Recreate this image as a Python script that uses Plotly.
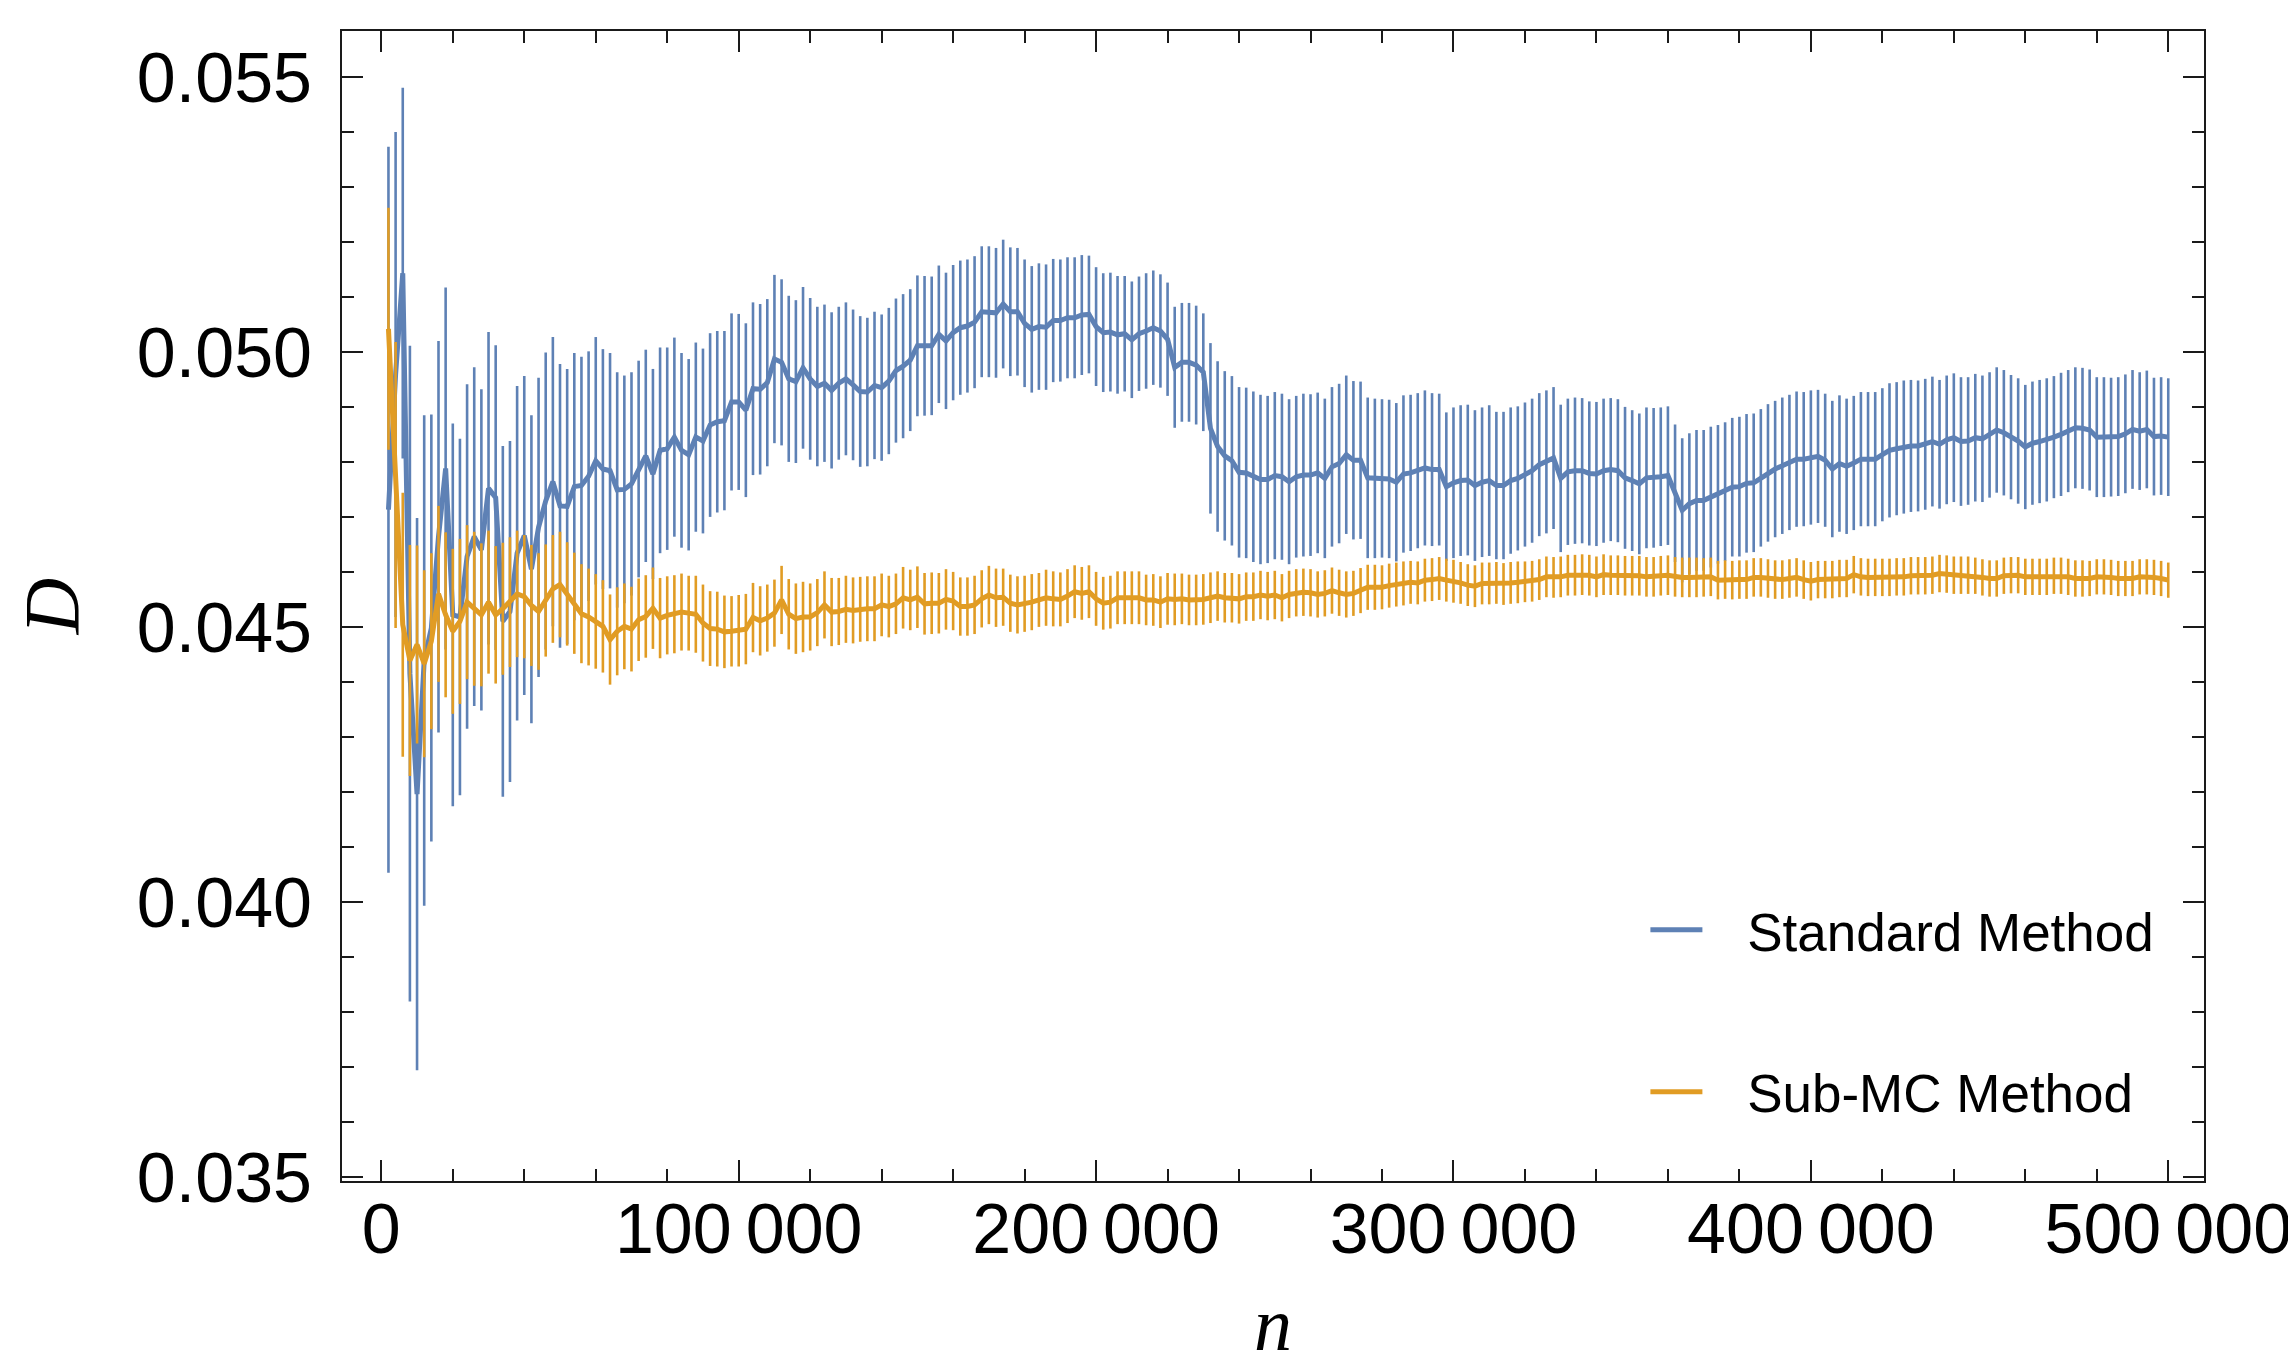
import plotly.graph_objects as go

# ---------------- data ----------------
n_values = list(range(2000, 500001, 2000))

standard_mean = [
    0.04714, 0.04960, 0.05144, 0.04416, 0.04197, 0.04440, 0.04499, 0.04665, 0.04789, 0.04523,
    0.04519, 0.04629, 0.04665, 0.04641, 0.04753, 0.04736, 0.04511, 0.04529, 0.04635, 0.04667,
    0.04606, 0.04682, 0.04730, 0.04765, 0.04721, 0.04720, 0.04756, 0.04758, 0.04775, 0.04803,
    0.04788, 0.04785, 0.04750, 0.04751, 0.04761, 0.04788, 0.04812, 0.04779, 0.04822, 0.04825,
    0.04846, 0.04822, 0.04814, 0.04846, 0.04839, 0.04868, 0.04874, 0.04876, 0.04910, 0.04910,
    0.04895, 0.04934, 0.04933, 0.04945, 0.04988, 0.04982, 0.04952, 0.04947, 0.04972, 0.04952,
    0.04938, 0.04944, 0.04931, 0.04944, 0.04952, 0.04941, 0.04929, 0.04928, 0.04940, 0.04936,
    0.04948, 0.04967, 0.04975, 0.04986, 0.05012, 0.05012, 0.05012, 0.05033, 0.05021, 0.05036,
    0.05045, 0.05048, 0.05055, 0.05074, 0.05074, 0.05072, 0.05088, 0.05074, 0.05074, 0.05053,
    0.05042, 0.05047, 0.05046, 0.05058, 0.05058, 0.05063, 0.05063, 0.05068, 0.05069, 0.05047,
    0.05036, 0.05037, 0.05032, 0.05034, 0.05023, 0.05034, 0.05039, 0.05045, 0.05039, 0.05024,
    0.04973, 0.04982, 0.04982, 0.04977, 0.04964, 0.04862, 0.04829, 0.04812, 0.04803, 0.04782,
    0.04781, 0.04774, 0.04769, 0.04769, 0.04776, 0.04774, 0.04765, 0.04774, 0.04777, 0.04777,
    0.04781, 0.04771, 0.04792, 0.04798, 0.04814, 0.04804, 0.04804, 0.04772, 0.04771, 0.04771,
    0.04770, 0.04764, 0.04779, 0.04781, 0.04785, 0.04790, 0.04787, 0.04787, 0.04756, 0.04763,
    0.04767, 0.04768, 0.04758, 0.04764, 0.04767, 0.04758, 0.04758, 0.04767, 0.04771, 0.04778,
    0.04785, 0.04796, 0.04801, 0.04808, 0.04771, 0.04783, 0.04785, 0.04785, 0.04780, 0.04779,
    0.04785, 0.04787, 0.04785, 0.04772, 0.04767, 0.04761, 0.04772, 0.04772, 0.04774, 0.04776,
    0.04744, 0.04713, 0.04725, 0.04731, 0.04731, 0.04737, 0.04742, 0.04747, 0.04755, 0.04756,
    0.04762, 0.04763, 0.04772, 0.04781, 0.04788, 0.04794, 0.04800, 0.04806, 0.04806, 0.04809,
    0.04811, 0.04804, 0.04788, 0.04798, 0.04793, 0.04799, 0.04806, 0.04806, 0.04806, 0.04814,
    0.04822, 0.04825, 0.04828, 0.04830, 0.04830, 0.04833, 0.04838, 0.04833, 0.04841, 0.04845,
    0.04838, 0.04839, 0.04845, 0.04843, 0.04850, 0.04859, 0.04854, 0.04846, 0.04839, 0.04828,
    0.04835, 0.04838, 0.04841, 0.04846, 0.04851, 0.04857, 0.04863, 0.04862, 0.04859, 0.04846,
    0.04846, 0.04846, 0.04847, 0.04852, 0.04860, 0.04857, 0.04860, 0.04847, 0.04848, 0.04846,
]

standard_err = [
    0.0066, 0.00441, 0.00337, 0.00596, 0.00502, 0.00446, 0.00388, 0.00356, 0.00329, 0.00348,
    0.00324, 0.00313, 0.00308, 0.00292, 0.00284, 0.00277, 0.00319, 0.0031, 0.00304, 0.0029,
    0.0028, 0.00272, 0.0027, 0.00263, 0.00258, 0.0025, 0.00243, 0.00234, 0.00227, 0.00225,
    0.00218, 0.00214, 0.00214, 0.00207, 0.00203, 0.00197, 0.00193, 0.00191, 0.00187, 0.00184,
    0.00181, 0.00177, 0.00174, 0.00172, 0.00168, 0.00167, 0.00165, 0.00163, 0.00161, 0.0016,
    0.00158, 0.00157, 0.00155, 0.00152, 0.00153, 0.00151, 0.00151, 0.00148, 0.00147, 0.00147,
    0.00145, 0.00143, 0.00142, 0.00139, 0.00139, 0.00137, 0.00137, 0.00135, 0.00134, 0.00133,
    0.00133, 0.00131, 0.00131, 0.00129, 0.00128, 0.00127, 0.00126, 0.00125, 0.00124, 0.00123,
    0.00122, 0.00121, 0.0012, 0.00119, 0.00119, 0.00118, 0.00117, 0.00117, 0.00116, 0.00116,
    0.00115, 0.00115, 0.00114, 0.00112, 0.00111, 0.0011, 0.0011, 0.00109, 0.00107, 0.00108,
    0.00108, 0.00108, 0.00107, 0.00105, 0.00106, 0.00104, 0.00105, 0.00104, 0.00103, 0.00103,
    0.0011, 0.00108, 0.00108, 0.00108, 0.00107, 0.00155, 0.00155, 0.00154, 0.00154, 0.00155,
    0.00155, 0.00155, 0.00154, 0.00152, 0.00152, 0.00151, 0.0015, 0.00147, 0.00148, 0.00147,
    0.00146, 0.00145, 0.00145, 0.00145, 0.00144, 0.00144, 0.00143, 0.00146, 0.00145, 0.00144,
    0.00144, 0.00144, 0.00143, 0.00142, 0.00141, 0.00141, 0.00139, 0.00138, 0.00135, 0.00137,
    0.00137, 0.00137, 0.00137, 0.00136, 0.00137, 0.00134, 0.00134, 0.00133, 0.00131, 0.00131,
    0.00131, 0.0013, 0.0013, 0.00129, 0.00134, 0.00133, 0.00133, 0.00132, 0.00131, 0.00131,
    0.00131, 0.0013, 0.0013, 0.00129, 0.00128, 0.00128, 0.00128, 0.00127, 0.00126, 0.00126,
    0.00125, 0.00131, 0.00128, 0.00128, 0.00128, 0.00128, 0.00126, 0.00126, 0.00126, 0.00127,
    0.00126, 0.00126, 0.00125, 0.00125, 0.00124, 0.00124, 0.00123, 0.00123, 0.00122, 0.00122,
    0.00121, 0.00121, 0.00124, 0.00124, 0.00123, 0.00122, 0.00122, 0.00122, 0.00122, 0.00121,
    0.00122, 0.00121, 0.00121, 0.0012, 0.00119, 0.00119, 0.00118, 0.00117, 0.00117, 0.00117,
    0.00117, 0.00116, 0.00116, 0.00115, 0.00114, 0.00114, 0.00114, 0.00113, 0.00114, 0.00113,
    0.00112, 0.00112, 0.00112, 0.00111, 0.00112, 0.00111, 0.0011, 0.0011, 0.0011, 0.00109,
    0.00109, 0.00108, 0.00108, 0.00108, 0.00108, 0.00107, 0.00107, 0.00107, 0.00107, 0.00107,
]

submc_mean = [
    0.05043, 0.04759, 0.04505, 0.04440, 0.04469, 0.04434, 0.04475, 0.04561, 0.04523, 0.04493,
    0.04511, 0.04546, 0.04534, 0.04523, 0.04546, 0.04523, 0.04534, 0.04546, 0.04561, 0.04556,
    0.04540, 0.04529, 0.04549, 0.04570, 0.04578, 0.04561, 0.04544, 0.04525, 0.04519, 0.04511,
    0.04502, 0.04478, 0.04493, 0.04502, 0.04497, 0.04514, 0.04520, 0.04535, 0.04517, 0.04522,
    0.04524, 0.04528, 0.04526, 0.04524, 0.04508, 0.04498, 0.04497, 0.04492, 0.04493, 0.04494,
    0.04497, 0.04518, 0.04512, 0.04517, 0.04526, 0.04550, 0.04524, 0.04516, 0.04519, 0.04519,
    0.04527, 0.04541, 0.04528, 0.04529, 0.04533, 0.04531, 0.04533, 0.04534, 0.04534, 0.04541,
    0.04538, 0.04543, 0.04554, 0.04550, 0.04555, 0.04543, 0.04544, 0.04544, 0.04551, 0.04548,
    0.04538, 0.04538, 0.04541, 0.04552, 0.04559, 0.04554, 0.04555, 0.04544, 0.04541, 0.04543,
    0.04546, 0.04550, 0.04554, 0.04552, 0.04551, 0.04557, 0.04565, 0.04562, 0.04565, 0.04552,
    0.04544, 0.04546, 0.04554, 0.04554, 0.04554, 0.04554, 0.04550, 0.04550, 0.04546, 0.04552,
    0.04551, 0.04552, 0.04550, 0.04550, 0.04551, 0.04554, 0.04557, 0.04554, 0.04554, 0.04552,
    0.04556, 0.04556, 0.04559, 0.04557, 0.04559, 0.04554, 0.04560, 0.04563, 0.04564, 0.04563,
    0.04560, 0.04562, 0.04567, 0.04563, 0.04560, 0.04562, 0.04567, 0.04573, 0.04573, 0.04573,
    0.04576, 0.04578, 0.04580, 0.04582, 0.04581, 0.04586, 0.04587, 0.04589, 0.04586, 0.04584,
    0.04581, 0.04577, 0.04575, 0.04580, 0.04580, 0.04581, 0.04579, 0.04581, 0.04582, 0.04583,
    0.04584, 0.04587, 0.04592, 0.04591, 0.04592, 0.04595, 0.04595, 0.04596, 0.04595, 0.04592,
    0.04596, 0.04595, 0.04595, 0.04594, 0.04594, 0.04594, 0.04592, 0.04592, 0.04594, 0.04595,
    0.04592, 0.04591, 0.04591, 0.04591, 0.04591, 0.04592, 0.04586, 0.04587, 0.04586, 0.04587,
    0.04587, 0.04591, 0.04591, 0.04589, 0.04587, 0.04587, 0.04589, 0.04591, 0.04587, 0.04584,
    0.04587, 0.04587, 0.04587, 0.04589, 0.04589, 0.04596, 0.04592, 0.04591, 0.04591, 0.04591,
    0.04591, 0.04592, 0.04592, 0.04594, 0.04594, 0.04594, 0.04595, 0.04598, 0.04597, 0.04595,
    0.04595, 0.04595, 0.04594, 0.04591, 0.04589, 0.04589, 0.04594, 0.04595, 0.04595, 0.04592,
    0.04592, 0.04592, 0.04592, 0.04594, 0.04594, 0.04592, 0.04589, 0.04589, 0.04589, 0.04592,
    0.04592, 0.04591, 0.04589, 0.04589, 0.04589, 0.04592, 0.04592, 0.04591, 0.04589, 0.04586,
]

submc_err = [
    0.0022, 0.0026, 0.0024, 0.0021, 0.0018, 0.0017, 0.0016, 0.0016, 0.0015, 0.0015,
    0.0015, 0.0014, 0.0014, 0.0013, 0.0013, 0.00125, 0.0012, 0.00118, 0.00115, 0.00112,
    0.0011, 0.00106, 0.00102, 0.00098, 0.00096, 0.00094, 0.00092, 0.0009, 0.00088, 0.00086,
    0.00084, 0.00082, 0.0008, 0.00078, 0.00077, 0.00075, 0.00075, 0.00074, 0.00073, 0.00071,
    0.00071, 0.0007, 0.00068, 0.0007, 0.0007, 0.00068, 0.00068, 0.00066, 0.00064, 0.00065,
    0.00064, 0.00063, 0.00063, 0.00061, 0.00061, 0.00062, 0.00064, 0.00064, 0.00064, 0.00061,
    0.00061, 0.00061, 0.00062, 0.00061, 0.00061, 0.0006, 0.00059, 0.00059, 0.00059, 0.00057,
    0.00056, 0.00055, 0.00056, 0.00055, 0.00056, 0.00056, 0.00056, 0.00055, 0.00055, 0.00053,
    0.00053, 0.00053, 0.00053, 0.00052, 0.00053, 0.00053, 0.00052, 0.00052, 0.00052, 0.00051,
    0.00051, 0.00049, 0.00051, 0.0005, 0.00049, 0.00049, 0.00048, 0.00048, 0.00048, 0.00049,
    0.00048, 0.00048, 0.00048, 0.00048, 0.00048, 0.00048, 0.00046, 0.00047, 0.00047, 0.00047,
    0.00047, 0.00046, 0.00046, 0.00046, 0.00046, 0.00046, 0.00045, 0.00045, 0.00045, 0.00045,
    0.00044, 0.00044, 0.00044, 0.00044, 0.00044, 0.00043, 0.00043, 0.00043, 0.00043, 0.00043,
    0.00042, 0.00042, 0.00042, 0.00042, 0.00042, 0.00041, 0.00041, 0.00041, 0.00041, 0.0004,
    0.0004, 0.0004, 0.0004, 0.00039, 0.00039, 0.00039, 0.00039, 0.00039, 0.00039, 0.00039,
    0.00038, 0.00038, 0.00038, 0.00038, 0.00038, 0.00038, 0.00038, 0.00038, 0.00038, 0.00037,
    0.00037, 0.00037, 0.00037, 0.00037, 0.00037, 0.00037, 0.00037, 0.00037, 0.00037, 0.00037,
    0.00037, 0.00036, 0.00036, 0.00036, 0.00036, 0.00036, 0.00036, 0.00036, 0.00036, 0.00036,
    0.00036, 0.00036, 0.00036, 0.00036, 0.00035, 0.00035, 0.00035, 0.00035, 0.00035, 0.00035,
    0.00035, 0.00035, 0.00035, 0.00035, 0.00035, 0.00035, 0.00035, 0.00035, 0.00035, 0.00035,
    0.00034, 0.00034, 0.00034, 0.00034, 0.00034, 0.00034, 0.00034, 0.00034, 0.00034, 0.00034,
    0.00034, 0.00034, 0.00034, 0.00034, 0.00034, 0.00034, 0.00034, 0.00034, 0.00034, 0.00034,
    0.00034, 0.00034, 0.00033, 0.00033, 0.00033, 0.00033, 0.00033, 0.00033, 0.00033, 0.00033,
    0.00033, 0.00033, 0.00033, 0.00033, 0.00033, 0.00033, 0.00033, 0.00033, 0.00032, 0.00032,
    0.00032, 0.00032, 0.00032, 0.00032, 0.00032, 0.00032, 0.00032, 0.00032, 0.00032, 0.00032,
]

series_names = ["Standard Method", "Sub-MC Method"]
x_range = [-11000, 510000]
y_range = [0.034936, 0.055844]

for arr in (standard_mean, standard_err, submc_mean, submc_err):
    assert len(arr) == len(n_values), len(arr)

# ---------------- styling ----------------
BLUE = "#5E81B5"
ORANGE = "#E19C24"
FRAME = "#1a1a1a"
SANS = "Liberation Sans, Arial, sans-serif"
SERIF = "Liberation Serif, Times New Roman, serif"
LEGEND_PAD = "\u2002\u2005"  # spacing between legend line sample and label

fig = go.Figure()
for name, mean, err, color, grp in [
    (series_names[0], standard_mean, standard_err, BLUE, "g1"),
    (series_names[1], submc_mean, submc_err, ORANGE, "g2"),
]:
    # error bars (drawn first, below the mean line)
    fig.add_trace(go.Scatter(
        x=n_values, y=mean, mode="lines", showlegend=False, hoverinfo="skip",
        line=dict(color="rgba(0,0,0,0)", width=0),
        error_y=dict(type="data", array=err, visible=True, width=0,
                     thickness=2.6, color=color),
    ))
    # mean line
    fig.add_trace(go.Scatter(
        x=n_values, y=mean, mode="lines", name=LEGEND_PAD + name, legendgroup=grp,
        line=dict(color=color, width=5),
    ))

axis_common = dict(
    showline=True, linecolor=FRAME, linewidth=2, mirror="ticks",
    ticks="inside", ticklen=21, tickwidth=1.5, tickcolor=FRAME,
    showgrid=False, zeroline=False,
    tickfont=dict(family=SANS, size=70, color="black"),
)

fig.update_xaxes(
    **axis_common,
    range=x_range, tickmode="linear", tick0=0, dtick=100000,
    tickformat=",d", ticklabelstandoff=-14,
    minor=dict(ticks="inside", ticklen=12, tickwidth=1.5, tickcolor=FRAME,
               tick0=0, dtick=20000, showgrid=False),
    title=dict(text="<i>n</i>", font=dict(family=SERIF, size=76, color="black"),
               standoff=30),
)
fig.update_yaxes(
    **axis_common,
    range=y_range, tickmode="linear", tick0=0.035, dtick=0.005,
    tickformat=".3f", ticklabelstandoff=14,
    minor=dict(ticks="inside", ticklen=12, tickwidth=1.5, tickcolor=FRAME,
               tick0=0.035, dtick=0.001, showgrid=False),
    title=dict(text="<i>D</i>", font=dict(family=SERIF, size=78, color="black"),
               standoff=40),
)

fig.update_layout(
    width=2296, height=1372,
    margin=dict(l=334, r=100, t=23, b=199, autoexpand=False),
    paper_bgcolor="white", plot_bgcolor="white",
    separators=".\u2009",
    showlegend=True,
    legend=dict(
        x=0.70, y=0.254, xanchor="left", yanchor="top",
        font=dict(family=SANS, size=53, color="black"),
        bgcolor="rgba(0,0,0,0)", borderwidth=0,
        tracegroupgap=90, itemwidth=52,
    ),
)

fig.write_html("out.html")
